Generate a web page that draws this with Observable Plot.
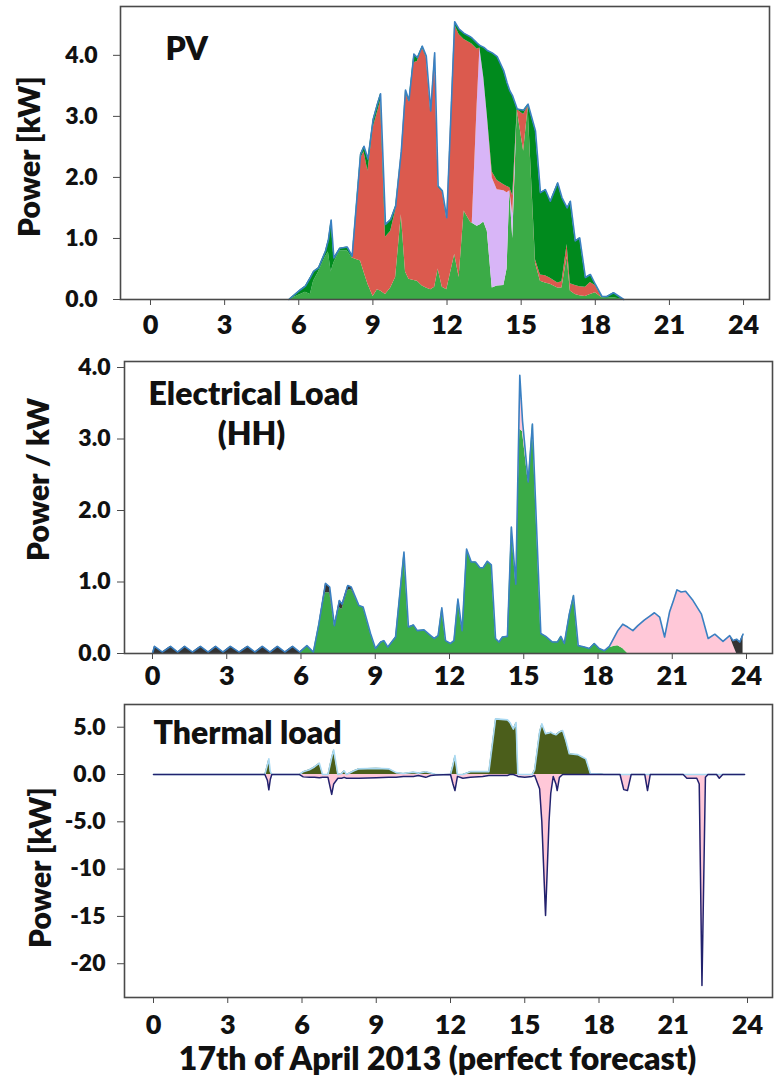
<!DOCTYPE html>
<html><head><meta charset="utf-8">
<script src="https://cdn.jsdelivr.net/npm/d3@7"></script>
<script src="https://cdn.jsdelivr.net/npm/@observablehq/plot@0.6"></script>
<style>
body{margin:0;background:#fff;}
#chart{width:774px;}
#chart svg{display:block;}
</style></head><body><div id="chart"></div>
<script>
// ---------- shared ----------
const hourTicks = [0, 3, 6, 9, 12, 15, 18, 21, 24];
const xAxisTitle = "17th of April 2013 (perfect forecast)";

// ---------- Panel 1: PV ----------
const pvHours   = [5.60,6.07,6.27,6.47,6.60,6.80,7.08,7.20,7.31,7.42,7.66,7.96,8.16,8.50,8.64,8.80,9.01,9.18,9.31,9.51,9.72,9.92,10.15,10.32,10.46,10.66,10.80,11.00,11.16,11.34,11.50,11.64,11.81,11.99,12.31,12.49,12.69,12.96,13.02,13.22,13.33,13.49,13.63,13.83,14.03,14.30,14.43,14.54,14.66,14.84,15.10,15.28,15.58,15.78,15.98,16.18,16.48,16.65,16.86,16.99,17.19,17.37,17.60,17.80,18.00,18.27,18.47,18.74,19.15];
const pvDirect  = [0,.08,.12,.08,.30,.45,.70,.78,.45,.60,.80,.80,.68,.63,.45,.25,.05,.16,.14,.08,.19,.36,1.39,.45,.33,.31,.30,.22,.19,.16,.20,.50,.20,.16,.74,.36,1.45,1.26,1.25,1.20,1.22,1.27,1.12,.19,.22,.23,.50,1.78,1.00,3.11,2.43,3.14,.60,.30,.27,.25,.19,.19,.70,.14,.08,.06,.05,.08,.11,.03,.02,.03,0];
const pvHeat    = [0,0,0,0,0,0,0,0,0,0,0,0,0,0,0,0,0,0,0,0,0,0,0,0,0,0,0,0,0,0,0,0,0,0,0,0,0,0,0,2.00,2.90,2.36,1.90,1.80,1.58,1.55,1.25,0,.40,0,0,0,0,0,0,0,0,0,0,0,0,0,0,0,0,0,0,0,0];
const pvBattery = [0,0,0,0,0,0,0,0,0,0,0,0,0,1.67,1.97,1.85,2.76,2.90,3.11,.94,.93,1.10,1.04,2.95,2.90,3.57,3.60,3.90,3.78,2.91,3.82,1.34,1.56,1.16,3.76,3.98,2.81,2.94,2.93,.90,0,0,0,.10,.15,.10,.10,.05,.30,0,.60,.03,.05,.10,.12,.10,.08,.10,.20,.12,.15,.15,.15,.20,.12,0,0,0,0];
const pvFeedIn  = [0,.08,.10,.28,.16,.07,.09,.20,.85,.08,.04,.06,.03,.08,.09,.20,.14,.14,.12,.21,.19,.07,0,.03,.03,.14,.06,.03,.02,.02,.02,.02,.02,.02,.05,.09,.10,.10,.10,.10,.04,.50,1.06,1.95,2.03,1.86,1.70,1.59,1.63,.01,.07,.03,2.11,1.35,1.41,1.26,1.64,1.38,.60,1.35,.73,.80,.16,.13,.02,.02,.03,.08,0];
const pvTicks = [0, 1, 2, 3, 4];
const pvTickLabels = ["0.0", "1.0", "2.0", "3.0", "4.0"];

// ---------- Panel 2: Electrical load ----------
const elHours   = [0.00,0.08,0.40,0.73,1.02,1.30,1.62,1.94,2.25,2.55,2.85,3.15,3.50,3.84,4.14,4.44,4.75,5.05,5.35,5.66,5.95,6.24,6.50,6.72,6.99,7.16,7.35,7.55,7.66,7.89,8.03,8.34,8.51,8.81,9.01,9.22,9.35,9.51,9.82,10.16,10.34,10.54,10.70,10.97,11.24,11.38,11.54,11.69,11.84,12.04,12.18,12.34,12.51,12.69,12.88,13.05,13.23,13.36,13.53,13.69,13.86,14.00,14.14,14.34,14.50,14.68,14.84,14.95,15.18,15.35,15.69,15.89,16.16,16.36,16.50,16.64,16.84,17.01,17.20,17.45,17.65,17.85,18.05,18.26,18.46,18.66,18.80,19.00,19.20,19.41,19.61,19.88,20.08,20.28,20.49,20.69,20.89,21.05,21.19,21.36,21.54,21.84,22.18,22.45,22.72,23.05,23.32,23.46,23.60,23.73,23.86];
const elFromPV  = [0,0,0,0,0,0,0,0,0,0,0,0,0,0,0,0,0,0,0,0,0,.11,.02,.41,.85,.85,.39,.64,.62,.88,.90,.67,.65,.28,.07,.16,.18,.09,.23,1.42,.37,.40,.32,.33,.25,.21,.25,.64,.18,.14,.18,.76,.32,1.46,1.28,1.28,1.20,1.20,1.29,1.24,.21,.16,.23,.24,1.77,.97,3.14,3.10,2.40,3.21,.28,.24,.16,.16,.24,.14,.55,.81,.11,.09,.07,.14,.07,.04,.08,.10,.11,.07,0,0,0,0,0,0,0,0,0,0,0,0,0,0,0,0,0,0,0,0,0,0,0];
const elFromBat = [0,0,0,0,0,0,0,0,0,0,0,0,0,0,0,0,0,0,0,0,0,0,0,0,0,0,0,0,0,0,0,0,0,0,0,0,0,0,0,0,0,0,0,0,0,0,0,0,0,0,0,0,0,0,0,0,0,0,0,0,0,0,0,0,0,0,.75,.15,0,0,0,0,0,0,0,0,0,0,0,0,0,0,0,0,.02,.13,.21,.34,.37,.32,.39,.47,.52,.57,.51,.23,.58,.74,.89,.86,.87,.74,.55,.21,.27,.17,.25,.12,0,0,0];
const elFromGrid= [0,.10,.02,.10,.02,.10,.02,.10,.02,.10,.02,.10,.02,.10,.02,.10,.02,.10,.02,.10,.02,0,0,0,.13,.08,0,.10,.07,.07,.03,0,0,0,0,0,0,0,0,0,0,0,0,0,0,0,0,0,0,0,0,0,0,0,0,0,0,0,0,0,0,0,0,0,0,0,0,0,0,0,0,0,0,0,0,0,0,0,0,0,0,0,0,0,0,0,0,0,0,0,0,0,0,0,0,0,0,0,0,0,0,0,0,0,0,0,0,.06,.20,.16,.27];
const elTicks = [0, 1, 2, 3, 4];
const elTickLabels = ["0.0", "1.0", "2.0", "3.0", "4.0"];

// ---------- Panel 3: Thermal load ----------
const thHours  = [0.00,4.50,4.60,4.66,4.72,4.78,5.90,6.05,6.30,6.50,6.70,6.83,7.05,7.20,7.28,7.45,7.60,7.70,7.80,8.10,8.30,9.00,9.50,9.80,10.10,10.50,10.70,11.00,11.20,11.40,12.00,12.10,12.18,12.28,12.50,12.80,13.30,13.55,13.82,14.30,14.40,14.54,14.65,14.72,15.00,15.30,15.40,15.60,15.69,15.84,15.98,16.05,16.15,16.26,16.31,16.40,16.53,16.66,16.80,17.14,17.34,17.47,17.65,18.10,18.20,18.85,19.00,19.15,19.30,19.85,19.96,20.07,21.40,21.55,21.95,22.05,22.16,22.30,22.40,22.75,22.86,23.00,23.88];
const thSupply = [0,0,1.0,1.65,.3,0,0,.3,.5,.8,1.2,0,0,1.8,2.6,0,.1,.4,0,.4,.6,.65,.6,.2,.1,.25,.15,.3,.15,0,0,1.0,2.0,0,0,.3,.3,.3,5.88,5.77,5.5,4.8,5.5,0,0,0,.5,4.5,5.35,4.3,4.4,4.47,4.3,4.2,4.3,4.5,4.65,3.6,2.2,2.1,1.83,1.65,.1,.05,0,0,0,0,0,0,0,0,0,0,0,0,0,0,0,0,0,0,0];
const thDemand = [0,0,-.6,-1.62,-.5,0,0,-.25,-.3,-.3,-.35,-.3,-.3,-2.1,-1.0,-.4,-.4,-.3,-.4,-.4,-.4,-.35,-.3,-.3,-.2,-.2,-.1,-.3,-.1,-.05,0,-1.0,-1.7,-.2,-.4,-.3,-.2,-.1,-.1,-.1,0,0,-.1,-.2,-.3,-.2,-.1,-1.5,-5,-14.9,-5,-2,-.2,-1.0,-1.7,-.3,0,0,0,0,0,0,0,0,0,0,-1.6,-1.7,0,0,-1.7,0,0,-.4,-.4,-1.0,-22.3,-.3,0,0,-.4,0,0];
const thTicks = [5, 0, -5, -10, -15, -20];
const thTickLabels = ["5.0", "0.0", "-5.0", "-10", "-15", "-20"];

// ---------- tables ----------
const pvKeys = ["direct", "heat", "battery", "feedin"];
const pvRows = pvHours.flatMap((t, i) => [
  {t, v: pvDirect[i], s: "direct"},
  {t, v: pvHeat[i], s: "heat"},
  {t, v: pvBattery[i], s: "battery"},
  {t, v: pvFeedIn[i], s: "feedin"}
]);
const pvTotal = pvHours.map((t, i) => ({t, v: pvDirect[i] + pvHeat[i] + pvBattery[i] + pvFeedIn[i]}));

const elKeys = ["pv", "bat", "grid"];
const elRows = elHours.flatMap((t, i) => [
  {t, v: elFromPV[i], s: "pv"},
  {t, v: elFromBat[i], s: "bat"},
  {t, v: elFromGrid[i], s: "grid"}
]);
const elTotal = elHours.map((t, i) => ({t, v: elFromPV[i] + elFromBat[i] + elFromGrid[i]}));

const thRows = thHours.map((t, i) => ({t, pos: thSupply[i], neg: thDemand[i]}));

const FONT = "Lato, 'Open Sans', sans-serif";
const W = 800;
const baseStyle = {fontFamily: FONT, fontWeight: W, background: "#fff", color: "#111"};
const frameStroke = "#4a4a4a";
const lineBlue = "#3a80c2";
const XF = 27, YF = 23, TF = 32, AF = 30;

function titleText(txt, opts) {
  return Plot.text([txt], Object.assign({text: d => d, fontSize: TF, fontWeight: W, fill: "#111", fontFamily: FONT}, opts));
}
// y tick marks from the axis (no text), labels as a text mark at a fixed offset from the frame
function yAxis(ticks, labels, gap) {
  return [
    Plot.axisY({ticks, tickFormat: () => "", tickSize: 7, label: null, stroke: frameStroke}),
    Plot.text(ticks, {y: d => d, text: d => labels[ticks.indexOf(d)], frameAnchor: "left", textAnchor: "end", lineAnchor: "middle", dx: -gap, fontSize: YF, fontWeight: W, fill: "#111", fontFamily: FONT})
  ];
}

// Panel 1
const p1 = Plot.plot({
  width: 774, height: 340,
  marginLeft: 120, marginRight: 5, marginTop: 6, marginBottom: 41,
  style: baseStyle,
  x: {domain: [-1.214, 25.05]},
  y: {domain: [0, 4.8]},
  color: {domain: pvKeys, range: ["#3bab47", "#d8b5f7", "#db5a4e", "#008a1d"]},
  marks: [
    Plot.areaY(pvRows, {x: "t", y: "v", z: "s", fill: "s", curve: "linear"}),
    Plot.lineY(pvTotal, {x: "t", y: "v", stroke: lineBlue, strokeWidth: 1.6}),
    Plot.frame({stroke: frameStroke, strokeWidth: 1.6}),
    Plot.axisX({ticks: hourTicks, tickSize: 6, tickPadding: 9, fontSize: XF, label: null, stroke: frameStroke, fill: "#111"}),
    ...yAxis(pvTicks, pvTickLabels, 23),
    titleText("PV", {frameAnchor: "top-left", textAnchor: "start", lineAnchor: "top", dx: 45, dy: 31}),
    titleText("Power [kW]", {frameAnchor: "left", rotate: -90, textAnchor: "middle", lineAnchor: "middle", dx: -90, dy: 3.5, fontSize: AF})
  ]
});

// Panel 2
const p2 = Plot.plot({
  width: 774, height: 350,
  marginLeft: 124, marginRight: 2, marginTop: 21, marginBottom: 37,
  style: baseStyle,
  x: {domain: [-1.131, 25.05]},
  y: {domain: [0, 4.084]},
  color: {domain: elKeys, range: ["#3bab47", "#ffc8d8", "#333333"]},
  marks: [
    Plot.areaY(elRows, {x: "t", y: "v", z: "s", fill: "s", curve: "linear"}),
    Plot.lineY(elTotal, {x: "t", y: "v", stroke: lineBlue, strokeWidth: 1.6}),
    Plot.frame({stroke: frameStroke, strokeWidth: 1.6}),
    Plot.axisX({ticks: hourTicks, tickSize: 6, tickPadding: 6, fontSize: XF, label: null, stroke: frameStroke, fill: "#111"}),
    ...yAxis(elTicks, elTickLabels, 14),
    titleText("Electrical Load", {frameAnchor: "top-left", textAnchor: "start", lineAnchor: "top", dx: 24, dy: 21}),
    titleText("(HH)", {frameAnchor: "top-left", textAnchor: "middle", lineAnchor: "top", dx: 127, dy: 61}),
    titleText("Power / kW", {frameAnchor: "left", rotate: -90, textAnchor: "middle", lineAnchor: "middle", dx: -85, dy: -28, fontSize: AF})
  ]
});

// Panel 3
const p3 = Plot.plot({
  width: 774, height: 391,
  marginLeft: 124, marginRight: 2, marginTop: 14, marginBottom: 84,
  style: baseStyle,
  x: {domain: [-1.172, 25.01]},
  y: {domain: [-23.57, 7.40]},
  marks: [
    Plot.areaY(thRows, {x: "t", y1: 0, y2: "pos", fill: "#4b5e1b", curve: "linear"}),
    Plot.areaY(thRows, {x: "t", y1: 0, y2: "neg", fill: "#ffc8d8", curve: "linear"}),
    Plot.lineY(thRows, {x: "t", y: "pos", stroke: "#a9d9f2", strokeWidth: 1.6}),
    Plot.lineY(thRows, {x: "t", y: "neg", stroke: "#22226e", strokeWidth: 1.5}),
    Plot.frame({stroke: frameStroke, strokeWidth: 1.6}),
    Plot.axisX({ticks: hourTicks, tickSize: 6, tickPadding: 11, fontSize: XF, label: null, stroke: frameStroke, fill: "#111"}),
    ...yAxis(thTicks, thTickLabels, 19),
    titleText("Thermal load", {frameAnchor: "top-left", textAnchor: "start", lineAnchor: "top", dx: 29, dy: 17}),
    titleText("Power [kW]", {frameAnchor: "left", rotate: -90, textAnchor: "middle", lineAnchor: "middle", dx: -83, dy: 16.5, fontSize: AF}),
    titleText(xAxisTitle, {frameAnchor: "bottom", textAnchor: "middle", lineAnchor: "top", dx: -11, dy: 50})
  ]
});

const root = document.getElementById("chart");
root.append(p1, p2, p3);
</script></body></html>
